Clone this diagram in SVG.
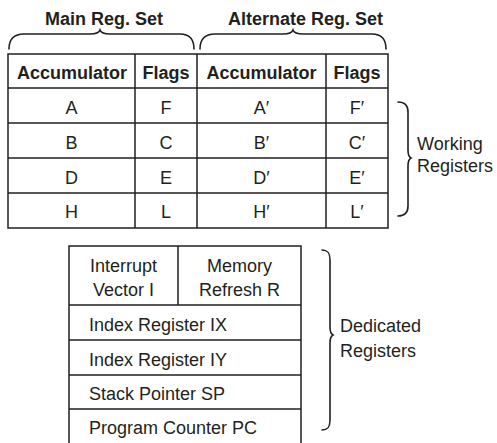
<svg xmlns="http://www.w3.org/2000/svg" width="497" height="443" viewBox="0 0 497 443">
<style>
text{font-family:"Liberation Sans",Arial,sans-serif;font-size:18px;fill:#231f20}
.b{font-weight:bold}
.c{text-anchor:middle}
.ln{stroke:#231f20;stroke-width:1.5;fill:none}
.br{stroke:#231f20;stroke-width:1.6;fill:none;stroke-linecap:round}
</style>
<rect width="497" height="443" fill="#fff"/>
<g id="main-title">
<text class="b" x="45" y="25">Main Reg. Set</text>
<path class="br" d="M9,49 C9,39 14,34 24,34 L90,34 C96,34 99,33 100,30 C101,33 104,34 110,34 L180,34 C190,34 194,39 194,49"/>
</g>
<g id="alt-title">
<text class="b" x="228" y="25">Alternate Reg. Set</text>
<path class="br" d="M200,49 C200,39 205,34 215,34 L283,34 C289,34 292,33 293,30 C294,33 297,34 303,34 L372,34 C382,34 386,39 386,49"/>
</g>
<g id="working-table">
<rect class="ln" x="8" y="54" width="380" height="174"/>
<path class="ln" d="M135,54V228M197,54V228M326,54V228M8,88H388M8,123H388M8,158H388M8,193H388"/>
<text class="b c" x="72" y="79">Accumulator</text>
<text class="b c" x="166" y="79">Flags</text>
<text class="b c" x="261.5" y="79">Accumulator</text>
<text class="b c" x="357" y="79">Flags</text>
<text class="c" x="71.5" y="114">A</text>
<text class="c" x="166" y="114">F</text>
<text class="c" x="261.5" y="114">A′</text>
<text class="c" x="357" y="114">F′</text>
<text class="c" x="71.5" y="149">B</text>
<text class="c" x="166" y="149">C</text>
<text class="c" x="261.5" y="149">B′</text>
<text class="c" x="357" y="149">C′</text>
<text class="c" x="71.5" y="184">D</text>
<text class="c" x="166" y="184">E</text>
<text class="c" x="261.5" y="184">D′</text>
<text class="c" x="357" y="184">E′</text>
<text class="c" x="71.5" y="218">H</text>
<text class="c" x="166" y="218">L</text>
<text class="c" x="261.5" y="218">H′</text>
<text class="c" x="357" y="218">L′</text>
</g>
<g id="working-label">
<path class="br" d="M398,102 C405,102 408,105 408,112 L408,150 C408,155 409,157 411,158 C409,159 408,161 408,166 L408,206 C408,213 405,216 398,216"/>
<text x="417" y="150">Working</text>
<text x="417" y="172">Registers</text>
</g>
<g id="dedicated-table">
<path class="ln" d="M69,443V246H301V443M178,246V305M69,305H301M69,340H301M69,375H301M69,409H301"/>
<text class="c" x="123.5" y="272">Interrupt</text>
<text class="c" x="123.5" y="296">Vector I</text>
<text class="c" x="239.5" y="272">Memory</text>
<text class="c" x="239.5" y="296">Refresh R</text>
<text x="89" y="331">Index Register IX</text>
<text x="89" y="366">Index Register IY</text>
<text x="89" y="400">Stack Pointer SP</text>
<text x="89" y="434">Program Counter PC</text>
</g>
<g id="dedicated-label">
<path class="br" d="M322,250 C328,250 330,253 330,260 L330,327 C330,332 331,334 333,335 C331,336 330,338 330,343 L330,420 C330,427 328,430 322,430"/>
<text x="340" y="332">Dedicated</text>
<text x="340" y="357">Registers</text>
</g>
<g id="connectors"></g>
</svg>
